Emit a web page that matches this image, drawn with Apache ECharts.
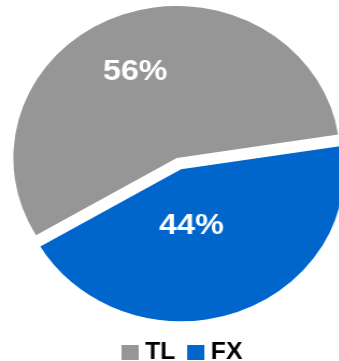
<!DOCTYPE html>
<html>
<head>
<meta charset="utf-8">
<script src="https://cdn.jsdelivr.net/npm/echarts@6/dist/echarts.min.js"></script>
<style>
  html, body { margin: 0; padding: 0; background: #ffffff; overflow: hidden; }
  /* the pie is drawn slightly wider than tall */
  #chart { width: 316px; height: 361px; transform: scaleX(1.075); transform-origin: 0 0; }
</style>
</head>
<body>
<div id="chart"></div>
<script>
// Share of each currency group (percent)
const categories = ['TL', 'FX'];
const shares = [56, 44];
const sliceColors = ['#969696', '#0066CC'];
// The FX slice is pulled out of the pie
const explodedSlice = 'FX';

// Fine placement of the percentage labels inside their slices
const labelShift = { TL: [-12, -12], FX: [-17, -18] };

const chart = echarts.init(document.getElementById('chart'), null, { renderer: 'canvas' });

const pieData = categories.map((name, i) => ({
  name: name,
  value: shares[i],
  selected: name === explodedSlice,
  itemStyle: { color: sliceColors[i] }
}));

chart.setOption({
  animation: false,
  backgroundColor: '#ffffff',
  legend: {
    data: categories,
    orient: 'horizontal',
    left: 113,
    top: 341,
    padding: 0,
    itemWidth: 16,
    itemHeight: 15,
    itemGap: 11,
    icon: 'rect',
    selectedMode: false,
    textStyle: {
      fontFamily: 'Liberation Sans, Arial, sans-serif',
      fontSize: 23,
      fontWeight: 'bold',
      color: '#000000',
      padding: [0, 0, 0, 1]
    }
  },
  series: [{
    type: 'pie',
    center: [164.4, 158],
    radius: 152,
    startAngle: 210.5,
    clockwise: true,
    selectedMode: 'single',
    selectedOffset: 12,
    avoidLabelOverlap: false,
    emphasis: { disabled: true },
    select: { itemStyle: { borderWidth: 0 } },
    itemStyle: { borderWidth: 0 },
    label: {
      show: true,
      position: 'inside',
      formatter: '{c}%',
      color: '#ffffff',
      fontFamily: 'Liberation Sans, Arial, sans-serif',
      fontSize: 30,
      fontWeight: 'bold'
    },
    labelLine: { show: false },
    labelLayout: function (params) {
      const name = categories[params.dataIndex];
      const s = labelShift[name];
      return { dx: s[0], dy: s[1] };
    },
    data: pieData
  }]
});
</script>
</body>
</html>
